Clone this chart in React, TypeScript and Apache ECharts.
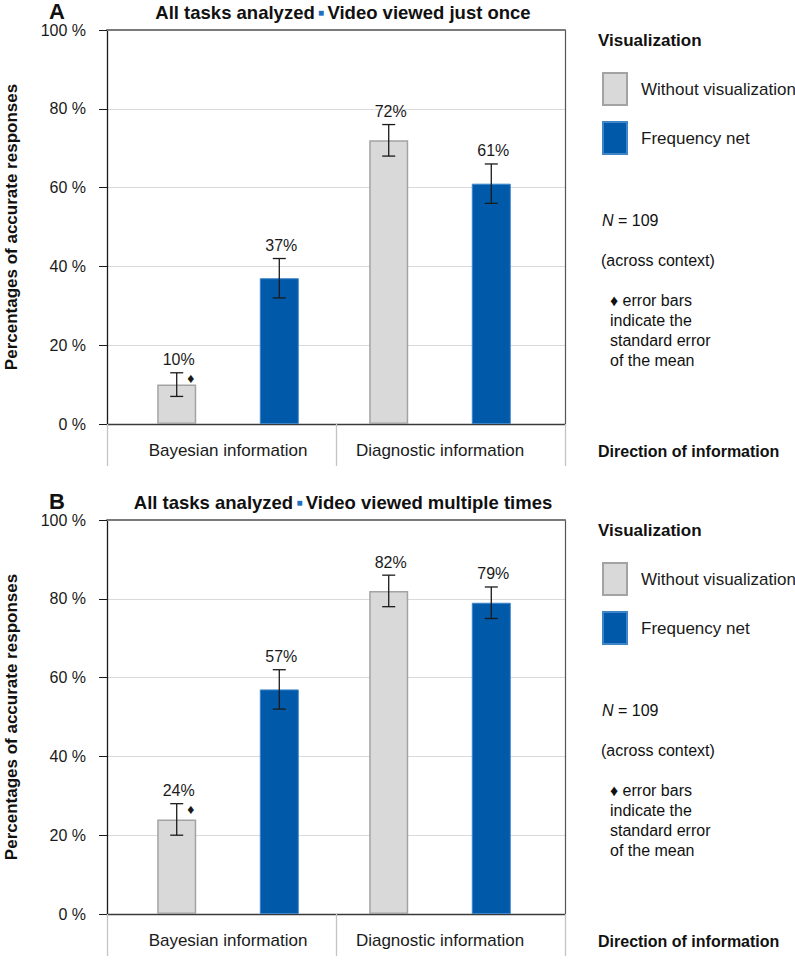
import React, { useEffect, useRef } from "react";
import * as echarts from "echarts";

const FONT = "'Liberation Sans', Arial, Helvetica, sans-serif";

const categories = ["Bayesian information", "Diagnostic information"];
const seriesNames = ["Without visualization", "Frequency net"];
const yTicks = { min: 0, max: 100, interval: 20 };

// Panel A: video viewed just once
const panelATitle = "Video viewed just once";
const aWithout = [10, 72];
const aFrequency = [37, 61];
const aWithoutErr = [3, 4];
const aFrequencyErr = [5, 5];

// Panel B: video viewed multiple times
const panelBTitle = "Video viewed multiple times";
const bWithout = [24, 82];
const bFrequency = [57, 79];
const bWithoutErr = [4, 4];
const bFrequencyErr = [5, 4];

// bar marked with the ♦ (series index, category index)
const markedBar = [0, 0];

const GREY = "#d9d9d9";
const GREY_BORDER = "#a3a3a3";
const BLUE = "#005aa9";
const BLUE_BORDER = "#3f86c8";
const BAR_WIDTH = 39;
const BAR_GAP = "163%";

function errData(vals: number[][], errs: number[][]) {
  const out: number[][] = [];
  vals.forEach((arr, s) =>
    arr.forEach((v, c) => {
      out.push([c, s, v, v - errs[s][c], v + errs[s][c]]);
    })
  );
  return out;
}

function renderErr(params: any, api: any) {
  const cat = api.value(0);
  const s = api.value(1);
  const v = api.value(2);
  const lo = api.value(3);
  const hi = api.value(4);
  let off = 0;
  const layout = api.barLayout
    ? api.barLayout({ barWidth: BAR_WIDTH, barGap: BAR_GAP, count: 2 })
    : null;
  if (layout && layout[s]) off = layout[s].offsetCenter;
  const top = api.coord([cat, hi]);
  const bot = api.coord([cat, lo]);
  const x = top[0] + off;
  const cap = 6.5;
  const ls = { stroke: "#1a1a1a", lineWidth: 1.3 };
  const children: any[] = [
    { type: "line", shape: { x1: x, y1: top[1], x2: x, y2: bot[1] }, style: ls },
    { type: "line", shape: { x1: x - cap, y1: top[1], x2: x + cap, y2: top[1] }, style: ls },
    { type: "line", shape: { x1: x - cap, y1: bot[1], x2: x + cap, y2: bot[1] }, style: ls },
    {
      type: "text",
      x: x + 2,
      y: top[1] - 13,
      style: {
        text: v + "%",
        fill: "#1a1a1a",
        font: `16px ${FONT}`,
        align: "center",
        verticalAlign: "middle",
      },
    },
  ];
  if (s === markedBar[0] && cat === markedBar[1]) {
    children.push({
      type: "text",
      x: x + 14,
      y: top[1] + 5,
      style: {
        text: "♦",
        fill: "#1a1a1a",
        font: `14px ${FONT}`,
        align: "center",
        verticalAlign: "middle",
      },
    });
  }
  return { type: "group", children };
}

function panelGraphics(top: number, letter: string, title: string) {
  const tx = 598;
  return [
    {
      type: "text",
      x: 49,
      y: top - 19,
      style: { text: letter, fill: "#111", font: `bold 22px ${FONT}`, verticalAlign: "middle" },
    },
    {
      type: "text",
      x: 343,
      y: top - 18,
      style: {
        text: "{b|All tasks analyzed} {sq|■} {b|" + title + "}",
        align: "center",
        verticalAlign: "middle",
        rich: {
          b: { fill: "#111", fontSize: 18.5, fontWeight: "bold", fontFamily: FONT },
          sq: { fill: "#1f6fc0", fontSize: 10, fontFamily: FONT },
        },
      },
    },
    {
      type: "text",
      x: tx,
      y: top + 10,
      style: { text: "Visualization", fill: "#111", font: `bold 17px ${FONT}`, verticalAlign: "middle" },
    },
    {
      type: "text",
      x: 602,
      y: top + 190,
      style: {
        text: "{i|N} = 109",
        verticalAlign: "middle",
        font: `16px ${FONT}`,
        fill: "#111",
        rich: {
          i: { fontStyle: "italic", fontSize: 16, fontFamily: FONT, fill: "#111" },
        },
      },
    },
    {
      type: "text",
      x: 601,
      y: top + 230,
      style: { text: "(across context)", fill: "#111", font: `16px ${FONT}`, verticalAlign: "middle" },
    },
    {
      type: "text",
      x: 610,
      y: top + 260,
      style: {
        text: "♦ error bars\nindicate the\nstandard error\nof the mean",
        fill: "#111",
        font: `16px ${FONT}`,
        lineHeight: 20,
        verticalAlign: "top",
      },
    },
    {
      type: "text",
      x: tx,
      y: top + 421,
      style: {
        text: "Direction of information",
        fill: "#111",
        font: `bold 16px ${FONT}`,
        verticalAlign: "middle",
      },
    },
  ];
}

export default function App() {
  const ref = useRef<HTMLDivElement>(null);
  useEffect(() => {
    if (!ref.current) return;
    const chart = echarts.init(ref.current, null, { renderer: "svg" });
    const gridTops = [30, 520];
    const gridH = 394;

    const xAxes: any[] = [];
    const yAxes: any[] = [];
    gridTops.forEach((_, g) => {
      xAxes.push({
        type: "category",
        gridIndex: g,
        data: categories,
        position: "bottom",
        axisLine: { show: true, onZero: false, lineStyle: { color: "#3a3a3a", width: 1.3 } },
        axisTick: {
          show: true,
          interval: 0,
          alignWithLabel: false,
          length: 42,
          lineStyle: { color: "#c4c4c4", width: 1.3 },
        },
        axisLabel: { show: false },
      });
      xAxes.push({
        type: "category",
        gridIndex: g,
        data: categories,
        position: "top",
        axisLine: { show: true, onZero: false, lineStyle: { color: "#7a7a7a", width: 2 } },
        axisTick: { show: false },
        axisLabel: { show: false },
      });
      yAxes.push({
        type: "value",
        gridIndex: g,
        min: yTicks.min,
        max: yTicks.max,
        interval: yTicks.interval,
        name: "Percentages of accurate responses",
        nameLocation: "middle",
        nameGap: 87,
        nameRotate: 90,
        nameTextStyle: { color: "#111", fontSize: 17, fontWeight: "bold", fontFamily: FONT },
        axisLine: { show: true, lineStyle: { color: "#1a1a1a", width: 1.3 } },
        axisTick: { show: true, length: 8, lineStyle: { color: "#1a1a1a" } },
        axisLabel: {
          formatter: "{value} %",
          color: "#1a1a1a",
          fontSize: 16,
          fontFamily: FONT,
          margin: 21,
        },
        splitLine: { show: true, lineStyle: { color: "#dadada", width: 1 } },
      });
      yAxes.push({
        type: "value",
        gridIndex: g,
        min: yTicks.min,
        max: yTicks.max,
        interval: yTicks.interval,
        position: "right",
        axisLine: { show: true, lineStyle: { color: "#555", width: 1.2 } },
        axisTick: { show: false },
        axisLabel: { show: false },
        splitLine: { show: false },
      });
    });
    // axes of the bar grids (bars and labels sit slightly inward of the category bands)
    gridTops.forEach((_, g) => {
      xAxes.push({
        type: "category",
        gridIndex: 2 + g,
        data: categories,
        position: "bottom",
        axisLine: { show: false },
        axisTick: { show: false },
        axisLabel: { color: "#1a1a1a", fontSize: 17, fontFamily: FONT, margin: 18, interval: 0 },
      });
      yAxes.push({
        type: "value",
        gridIndex: 2 + g,
        min: yTicks.min,
        max: yTicks.max,
        interval: yTicks.interval,
        show: false,
        splitLine: { show: false },
      });
    });

    const panels = [
      { w: aWithout, f: aFrequency, we: aWithoutErr, fe: aFrequencyErr },
      { w: bWithout, f: bFrequency, we: bWithoutErr, fe: bFrequencyErr },
    ];
    const series: any[] = [];
    panels.forEach((p, g) => {
      const xi = 4 + g;
      const yi = 4 + g;
      series.push({
        type: "bar",
        name: seriesNames[0],
        xAxisIndex: xi,
        yAxisIndex: yi,
        data: p.w,
        barWidth: BAR_WIDTH,
        barGap: BAR_GAP,
        itemStyle: { color: GREY, borderColor: GREY_BORDER, borderWidth: 1.5 },
      });
      series.push({
        type: "bar",
        name: seriesNames[1],
        xAxisIndex: xi,
        yAxisIndex: yi,
        data: p.f,
        barWidth: BAR_WIDTH,
        barGap: BAR_GAP,
        itemStyle: { color: BLUE, borderColor: BLUE_BORDER, borderWidth: 1 },
      });
      series.push({
        type: "custom",
        name: "err" + g,
        xAxisIndex: xi,
        yAxisIndex: yi,
        renderItem: renderErr,
        encode: { x: 0, y: 2 },
        data: errData([p.w, p.f], [p.we, p.fe]),
        z: 10,
        silent: true,
      });
    });

    const legendBase = {
      orient: "vertical",
      left: 597,
      itemWidth: 24,
      itemHeight: 32,
      itemGap: 15,
      icon: "rect",
      data: seriesNames,
      selectedMode: false,
      textStyle: {
        color: "#1a1a1a",
        fontSize: 17,
        fontFamily: FONT,
        padding: [0, 0, 0, 9],
      },
    };

    const gridBase = { containLabel: false, outerBoundsMode: "none", height: gridH };
    chart.setOption({
      animation: false,
      textStyle: { fontFamily: FONT },
      grid: [
        ...gridTops.map((t) => ({ ...gridBase, left: 107, width: 458, top: t })),
        ...gridTops.map((t) => ({ ...gridBase, left: 122, width: 424, top: t })),
      ],
      xAxis: xAxes,
      yAxis: yAxes,
      legend: [
        { ...legendBase, top: 67 },
        { ...legendBase, top: 557 },
      ],
      series,
      graphic: [
        ...panelGraphics(30, "A", panelATitle),
        ...panelGraphics(520, "B", panelBTitle),
      ],
    });
    return () => chart.dispose();
  }, []);
  return (
    <div
      ref={ref}
      style={{ position: "absolute", left: 0, top: 0, width: 795, height: 960, background: "#fff" }}
    />
  );
}
